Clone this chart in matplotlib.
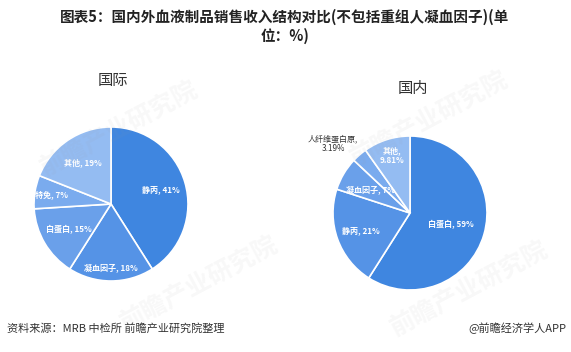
import matplotlib
matplotlib.use("Agg")
import matplotlib.pyplot as plt
import numpy as np

plt.rcParams['font.family'] = ['Noto Sans CJK SC', 'DejaVu Sans']

title_line1 = "图表5：国内外血液制品销售收入结构对比(不包括重组人凝血因子)(单"
title_line2 = "位：%)"

intl_title = "国际"
intl_labels = ["静丙", "凝血因子", "白蛋白", "特免", "其他"]
intl_values = [41, 18, 15, 7, 19]

dom_title = "国内"
dom_labels = ["白蛋白", "静丙", "凝血因子", "人纤维蛋白原", "其他"]
dom_values = [59, 21, 7, 3.19, 9.81]

colors = ["#3f86e0", "#5593e6", "#6aa0ea", "#7aabee", "#94bcf2"]

W, H = 571, 352
fig = plt.figure(figsize=(W / 100, H / 100), dpi=100)
fig.patch.set_facecolor("white")


def px_axes(cx, cy, r):
    return fig.add_axes([(cx - r) / W, 1 - (cy + r) / H, 2 * r / W, 2 * r / H])


def fmt(v):
    return f"{v:g}%"


def draw_pie(ax, values, labels, ldist, outside=None):
    ax.pie(values, startangle=90, counterclock=False, colors=colors,
           wedgeprops=dict(edgecolor="white", linewidth=1.2))
    ax.set_xlim(-1, 1)
    ax.set_ylim(-1, 1)
    ax.set_aspect("equal")
    ax.axis("off")
    total = sum(values)
    start = 90.0
    for i, (v, lab) in enumerate(zip(values, labels)):
        mid = start - v / total * 360 / 2
        start -= v / total * 360
        d = ldist[i]
        x, y = d * np.cos(np.radians(mid)), d * np.sin(np.radians(mid))
        if outside is not None and i == outside:
            ax.text(-1.0, 0.9, f"{lab},\n{fmt(v)}", ha="center", va="center",
                    fontsize=5.8, color="#333333", linespacing=1.1)
        elif isinstance(v, float) and v != int(v):
            ax.text(x, y, f"{lab},\n{fmt(v)}", ha="center", va="center",
                    fontsize=5.8, color="white", linespacing=1.1, fontweight="bold")
        else:
            ax.text(x, y, f"{lab}, {fmt(v)}", ha="center", va="center",
                    fontsize=5.8, color="white", fontweight="bold")


ax1 = px_axes(111, 204, 77)
draw_pie(ax1, intl_values, intl_labels, [0.68, 0.82, 0.64, 0.78, 0.65])

ax2 = px_axes(410, 213, 77)
draw_pie(ax2, dom_values, dom_labels, [0.55, 0.68, 0.6, 0.8, 0.78], outside=3)

fig.text(113 / W, 1 - 80 / H, intl_title, ha="center", va="center", fontsize=11, color="#333333")
fig.text(413 / W, 1 - 88 / H, dom_title, ha="center", va="center", fontsize=11, color="#333333")

fig.text(285 / W, 1 - 17 / H, title_line1, ha="center", va="center", fontsize=10.5,
         fontweight="bold", color="#222222")
fig.text(285 / W, 1 - 36 / H, title_line2, ha="center", va="center", fontsize=10.5,
         fontweight="bold", color="#222222")

fig.text(7 / W, 1 - 328 / H, "资料来源：MRB 中检所 前瞻产业研究院整理", ha="left", va="center",
         fontsize=8, color="#333333")
fig.text(566 / W, 1 - 328 / H, "@前瞻经济学人APP", ha="right", va="center",
         fontsize=8, color="#333333")

# faint watermarks
for (x, y) in [(120, 130), (430, 120), (200, 285), (470, 290)]:
    fig.text(x / W, 1 - y / H, "前瞻产业研究院", ha="center", va="center", fontsize=18,
             fontweight="bold", color="#999999", alpha=0.07, rotation=28, zorder=10)

fig.savefig("out.png", dpi=100, facecolor="white")
